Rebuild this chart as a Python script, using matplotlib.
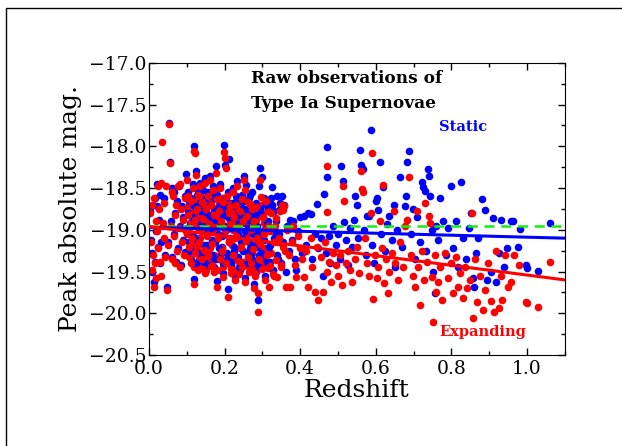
import matplotlib
matplotlib.use('Agg')
import matplotlib.pyplot as plt
from matplotlib.patches import Rectangle
from matplotlib.ticker import MultipleLocator
import numpy as np

# static model (blue): redshift, peak absolute magnitude
static_z = [
    0.004, 0.006, 0.008, 0.009, 0.011, 0.013, 0.015, 0.016, 0.018, 0.020,
    0.022, 0.024, 0.026, 0.028, 0.030, 0.033, 0.036, 0.040, 0.043, 0.048,
    0.050, 0.053, 0.056, 0.058, 0.060, 0.062, 0.065, 0.067, 0.070, 0.072,
    0.075, 0.077, 0.080, 0.082, 0.084, 0.087, 0.089, 0.091, 0.094, 0.096,
    0.099, 0.100,
    0.102, 0.104, 0.106, 0.108, 0.110, 0.112, 0.114, 0.116, 0.118, 0.120,
    0.121, 0.123, 0.125, 0.127, 0.129, 0.131, 0.133, 0.135, 0.137, 0.139,
    0.141, 0.143, 0.145, 0.147, 0.149, 0.151, 0.153, 0.155, 0.157, 0.159,
    0.161, 0.163, 0.165, 0.167, 0.169, 0.171, 0.173, 0.175, 0.177, 0.179,
    0.181, 0.183, 0.185, 0.187, 0.189, 0.191, 0.193, 0.195, 0.197, 0.199,
    0.200, 0.202, 0.204, 0.206, 0.208, 0.210, 0.212, 0.214, 0.216, 0.218,
    0.220, 0.222, 0.224, 0.226, 0.228, 0.230, 0.232, 0.234, 0.236, 0.238,
    0.240, 0.242, 0.244, 0.246, 0.248, 0.250, 0.252, 0.254, 0.256, 0.258,
    0.260, 0.262, 0.264, 0.266, 0.268, 0.270, 0.272, 0.274, 0.276, 0.278,
    0.280, 0.282, 0.284, 0.286, 0.288, 0.290, 0.292, 0.294, 0.296, 0.298,
    0.300, 0.302, 0.305, 0.308, 0.310, 0.313, 0.316, 0.320, 0.323, 0.326,
    0.329, 0.332,
    0.335, 0.338, 0.340, 0.343, 0.346, 0.350, 0.352, 0.355, 0.358, 0.362,
    0.366, 0.370, 0.374, 0.378, 0.382, 0.386, 0.390, 0.395, 0.400, 0.405,
    0.410, 0.415, 0.420, 0.428, 0.432, 0.438, 0.445, 0.448,
    0.455, 0.460, 0.464, 0.468, 0.472, 0.472, 0.476, 0.480, 0.488, 0.494,
    0.500, 0.505, 0.508, 0.512, 0.515, 0.520, 0.526, 0.532, 0.538, 0.542,
    0.546, 0.550, 0.554, 0.558, 0.562, 0.566, 0.570, 0.574, 0.577, 0.582,
    0.587, 0.590, 0.595, 0.600, 0.603, 0.606, 0.612, 0.615, 0.619, 0.624,
    0.630, 0.636, 0.642, 0.647, 0.652, 0.656, 0.663, 0.670, 0.676, 0.680,
    0.683, 0.688, 0.692, 0.698, 0.705, 0.710, 0.716, 0.722, 0.726, 0.730,
    0.734, 0.737, 0.740, 0.744, 0.748, 0.752, 0.756, 0.760, 0.765, 0.770,
    0.778, 0.785, 0.790, 0.798, 0.805, 0.812, 0.818, 0.826, 0.832, 0.840,
    0.846, 0.852, 0.856, 0.860, 0.865, 0.870, 0.880, 0.888, 0.895, 0.905,
    0.911, 0.918, 0.925, 0.932, 0.940, 0.948, 0.958, 0.963, 0.975, 0.982,
    0.998, 1.000, 1.030, 1.060,
]
static_mag = [
    -18.78, -19.12, -19.50, -19.28, -18.70, -19.62, -18.62, -19.38, -19.02, -18.72,
    -18.45, -19.20, -18.88, -19.40, -18.58, -19.15, -18.95, -18.62, -19.30, -19.69,
    -19.15, -17.72, -18.19, -18.90, -19.32, -18.50, -18.55, -19.05, -18.80, -19.38,
    -18.65, -19.22, -18.47, -18.96, -19.42, -18.72, -19.12, -18.85, -19.26, -18.60,
    -18.33, -19.00,
    -18.55, -18.78, -19.15, -18.92, -19.35, -18.62, -19.05, -18.45, -19.59, -18.00,
    -18.83, -19.22, -18.30, -18.70, -19.42, -18.52, -19.10, -18.44, -18.95, -19.30,
    -18.62, -18.82, -19.18, -18.38, -19.48, -18.70, -19.02, -18.55, -19.25, -18.88,
    -18.35, -19.38, -18.65, -19.12, -18.48, -18.78, -19.45, -18.92, -18.24, -19.61,
    -18.58, -19.05, -18.72, -19.30, -18.45, -18.85, -19.20, -18.62, -19.52, -17.98,
    -18.95, -18.22, -18.75, -19.35, -18.55, -19.71, -18.15, -19.10, -18.68, -19.42,
    -18.88, -18.50, -19.25, -18.80, -19.55, -18.65, -19.02, -18.42, -19.32, -18.92,
    -19.48, -18.72, -19.15, -18.58, -19.40, -18.85, -18.35, -19.58, -18.46, -19.08,
    -18.78, -19.28, -18.62, -19.45, -18.58, -18.95, -19.35, -18.70, -19.18, -19.65,
    -18.85, -19.50, -18.68, -19.05, -19.84, -18.48, -19.30, -18.26, -19.12, -18.37,
    -19.42, -18.80, -19.00, -19.55, -18.68, -19.25, -18.90, -19.38, -18.75, -18.49,
    -19.48, -19.10,
    -18.90, -19.30, -18.59, -19.05, -18.75, -19.40, -18.60, -19.15, -18.70, -19.50,
    -18.95, -19.25, -18.88, -19.12, -18.90, -19.35, -19.48, -19.02, -18.85, -19.28,
    -18.83, -19.18, -18.80, -18.81, -19.35, -19.05, -18.69, -19.22,
    -19.10, -19.55, -18.57, -19.28, -18.37, -18.01, -19.08, -19.40, -18.95, -19.18,
    -19.05, -19.35, -18.24, -18.41, -18.91, -19.12, -19.42, -18.98, -19.20, -18.88,
    -18.60, -18.70, -19.10, -18.04, -18.22, -18.27, -19.00, -19.30, -18.84, -18.83,
    -17.81, -19.18, -19.40, -18.65, -18.62, -18.76, -18.19, -19.05, -18.49, -19.25,
    -18.93, -18.84, -19.12, -18.70, -19.45, -19.00, -18.37, -19.20, -18.72, -18.59,
    -18.19, -18.06, -19.05, -18.75, -19.35, -18.85, -19.15, -18.43, -18.49, -18.54,
    -19.25, -18.27, -18.35, -18.60, -19.00, -19.50, -19.76, -18.95, -19.12, -18.62,
    -18.90, -19.30, -18.98, -18.47, -19.22, -18.90, -19.45, -18.43, -19.10, -19.35,
    -18.98, -18.80, -19.58, -19.68, -19.28, -19.10, -18.63, -18.76, -19.60, -19.50,
    -18.86, -19.62, -19.28, -18.88, -19.45, -19.22, -18.90, -18.90, -19.20, -18.99,
    -19.42, -19.46, -19.49, -18.92,
]
# extra points filling the crowded clump between z = 0.1 and 0.35
static_core_z = [
    0.262, 0.268, 0.274, 0.281, 0.289, 0.293, 0.297, 0.301, 0.304, 0.309,
    0.312, 0.315, 0.319, 0.322, 0.327, 0.331, 0.336, 0.341, 0.347, 0.353,
    0.101, 0.105, 0.109, 0.113, 0.117, 0.119, 0.124, 0.126, 0.128, 0.132,
    0.134, 0.136, 0.138, 0.142, 0.144, 0.146, 0.148, 0.152, 0.154, 0.156,
    0.158, 0.162, 0.164, 0.166, 0.168, 0.172, 0.174, 0.176, 0.178, 0.182,
    0.184, 0.186, 0.188, 0.192, 0.194, 0.196, 0.198, 0.203, 0.205, 0.207,
    0.209, 0.213, 0.215, 0.217, 0.219, 0.223, 0.225, 0.227, 0.229, 0.233,
    0.235, 0.237, 0.239, 0.243, 0.245, 0.247, 0.249, 0.253, 0.255, 0.257,
    0.259, 0.263, 0.265, 0.267, 0.269, 0.273, 0.275, 0.277, 0.279, 0.283,
    0.285, 0.287, 0.291, 0.295, 0.299, 0.303, 0.307, 0.311, 0.318, 0.325,
]
static_core_mag = [
    -18.98, -19.22, -18.80, -19.40, -19.05, -18.75, -19.28, -18.85, -19.12, -18.70,
    -19.38, -18.95, -19.18, -18.62, -19.48, -18.78, -19.05, -19.35, -18.68, -19.15,
    -18.98, -18.65, -19.25, -18.85, -19.08, -18.72, -19.40, -18.58, -19.12, -18.90,
    -18.68, -19.28, -18.78, -19.02, -18.52, -19.38, -18.95, -18.62, -19.18, -18.82,
    -19.42, -18.70, -18.98, -19.30, -18.88, -18.60, -19.15, -18.75, -19.35, -18.92,
    -18.50, -19.22, -18.68, -19.08, -18.80, -19.40, -18.72, -19.00, -18.62, -19.28,
    -18.85, -19.15, -18.55, -19.38, -18.98, -18.72, -19.20, -18.90, -18.60, -19.32,
    -19.05, -18.82, -19.45, -18.68, -19.10, -18.92, -19.25, -18.75, -19.02, -18.65,
    -19.40, -18.88, -19.15, -18.78, -19.30, -18.55, -19.05, -18.85, -19.38, -18.72,
    -19.20, -18.95, -19.45, -18.80, -19.12, -18.62, -19.32, -18.92, -19.20, -18.70,
]

# expanding model (red)
expand_z = [
    0.003, 0.005, 0.007, 0.009, 0.010, 0.012, 0.014, 0.016, 0.018, 0.019,
    0.021, 0.023, 0.025, 0.027, 0.029, 0.031, 0.033, 0.035, 0.037, 0.039,
    0.041, 0.043, 0.045, 0.048, 0.050, 0.053, 0.056, 0.058, 0.060, 0.062,
    0.064, 0.066, 0.068, 0.070, 0.072, 0.074, 0.077, 0.079, 0.081, 0.083,
    0.086, 0.088, 0.090, 0.093, 0.095, 0.098, 0.100,
    0.102, 0.104, 0.106, 0.108, 0.110, 0.112, 0.114, 0.116, 0.118, 0.120,
    0.121, 0.122, 0.123, 0.125, 0.127, 0.129, 0.131, 0.133, 0.135, 0.137,
    0.139, 0.141, 0.143, 0.145, 0.147, 0.149, 0.151, 0.153, 0.155, 0.157,
    0.159, 0.161, 0.163, 0.165, 0.167, 0.169, 0.171, 0.173, 0.175, 0.177,
    0.179, 0.181, 0.183, 0.185, 0.187, 0.189, 0.191, 0.193, 0.195, 0.197,
    0.199, 0.200, 0.201, 0.203, 0.205, 0.207, 0.209, 0.211, 0.213, 0.215,
    0.217, 0.219, 0.221, 0.223, 0.225, 0.227, 0.229, 0.231, 0.233, 0.235,
    0.237, 0.239, 0.241, 0.243, 0.245, 0.247, 0.249, 0.251, 0.253, 0.255,
    0.257, 0.259, 0.261, 0.263, 0.265, 0.267, 0.269, 0.271, 0.273, 0.275,
    0.277, 0.279, 0.281, 0.283, 0.285, 0.288, 0.289, 0.291, 0.293, 0.295,
    0.297, 0.299, 0.301, 0.304, 0.307, 0.310, 0.312, 0.315, 0.318, 0.321,
    0.324, 0.327, 0.330,
    0.334, 0.337, 0.340, 0.343, 0.346, 0.350, 0.352, 0.355, 0.358, 0.362,
    0.366, 0.370, 0.374, 0.378, 0.382, 0.386, 0.390, 0.395, 0.400, 0.405,
    0.410, 0.415, 0.420, 0.428, 0.432, 0.438, 0.445, 0.448,
    0.455, 0.460, 0.466, 0.470, 0.472, 0.472, 0.476, 0.482, 0.488, 0.494,
    0.500, 0.505, 0.510, 0.513, 0.515, 0.520, 0.526, 0.532, 0.538, 0.544,
    0.550, 0.556, 0.560, 0.563, 0.567, 0.572, 0.577, 0.582, 0.587, 0.590,
    0.593, 0.597, 0.602, 0.607, 0.611, 0.616, 0.619, 0.623, 0.628, 0.632,
    0.636, 0.642, 0.647, 0.652, 0.658, 0.665, 0.672, 0.678, 0.682, 0.688,
    0.692, 0.698, 0.703, 0.708, 0.712, 0.718, 0.722, 0.727, 0.730, 0.735,
    0.740, 0.744, 0.748, 0.752, 0.756, 0.760, 0.765, 0.770, 0.776, 0.782,
    0.790, 0.798, 0.805, 0.812, 0.818, 0.824, 0.830, 0.836, 0.842, 0.848,
    0.855, 0.858, 0.862, 0.868, 0.875, 0.884, 0.890, 0.896, 0.904, 0.913,
    0.918, 0.925, 0.930, 0.935, 0.942, 0.950, 0.958, 0.965, 0.978, 0.998,
    1.000, 1.030, 1.060,
]
expand_mag = [
    -18.80, -19.15, -19.48, -18.70, -19.30, -19.68, -18.62, -19.40, -18.90, -19.58,
    -19.02, -18.47, -19.22, -18.75, -19.38, -18.44, -19.55, -17.95, -18.92, -19.10,
    -18.68, -19.32, -18.47, -19.72, -19.18, -17.73, -18.20, -18.96, -19.35, -18.55,
    -18.60, -19.08, -18.82, -19.40, -18.70, -19.25, -18.48, -18.98, -18.45, -19.45,
    -18.75, -19.15, -18.88, -19.30, -18.62, -19.02, -18.40,
    -18.60, -18.82, -19.20, -18.97, -19.40, -18.66, -19.10, -18.50, -19.65, -18.06,
    -18.88, -18.08, -19.28, -18.34, -18.75, -19.48, -18.58, -19.15, -18.48, -19.00,
    -19.35, -18.67, -18.87, -19.24, -18.44, -19.52, -18.75, -19.08, -18.60, -19.30,
    -18.93, -18.40, -19.43, -18.70, -19.17, -18.52, -18.82, -19.50, -18.97, -18.32,
    -19.68, -18.63, -19.10, -18.77, -19.35, -18.50, -18.90, -19.25, -18.67, -19.57,
    -18.07, -19.00, -18.14, -18.26, -19.40, -18.60, -19.80, -18.80, -19.15, -18.73,
    -19.47, -18.93, -18.55, -19.30, -18.85, -19.60, -18.70, -19.07, -18.47, -19.37,
    -18.97, -19.53, -18.77, -19.20, -18.63, -19.45, -18.90, -18.40, -19.63, -18.52,
    -19.13, -18.83, -19.33, -18.67, -19.50, -18.69, -19.00, -19.40, -18.75, -19.23,
    -19.70, -18.90, -19.55, -18.73, -19.10, -19.98, -19.76, -19.35, -18.40, -19.17,
    -18.61, -19.47, -18.85, -19.05, -19.60, -18.65, -19.30, -18.95, -19.68, -19.43,
    -18.80, -19.53, -19.15,
    -18.95, -19.36, -19.56, -19.10, -18.77, -19.45, -18.70, -19.20, -18.72, -19.68,
    -19.00, -19.30, -19.68, -19.15, -18.95, -19.42, -19.56, -19.08, -19.22, -19.35,
    -19.56, -19.25, -19.68, -19.10, -19.45, -19.75, -19.20, -19.84,
    -19.32, -19.74, -19.15, -19.50, -18.23, -18.79, -19.38, -19.62, -19.28, -19.42,
    -19.55, -19.30, -19.66, -18.47, -18.65, -19.40, -19.25, -19.48, -19.62, -19.35,
    -19.20, -19.52, -18.29, -18.51, -18.55, -19.10, -19.40, -19.55, -18.80, -18.08,
    -19.83, -19.30, -19.58, -19.45, -18.90, -19.22, -18.46, -19.64, -19.35, -19.76,
    -19.50, -19.28, -18.77, -19.40, -19.60, -19.15, -19.45, -18.95, -18.88, -18.37,
    -19.30, -19.55, -19.68, -18.77, -19.45, -19.90, -19.25, -19.60, -18.68, -19.38,
    -18.84, -18.92, -19.56, -20.10, -19.30, -19.75, -19.62, -19.45, -19.84, -19.28,
    -19.58, -19.40, -19.76, -19.32, -19.68, -19.52, -19.82, -19.45, -19.70, -19.60,
    -18.80, -20.06, -19.35, -19.86, -19.55, -19.96, -19.72, -19.40, -19.85, -19.98,
    -19.25, -19.94, -19.55, -19.84, -19.30, -19.68, -19.62, -19.30, -19.42, -19.86,
    -19.88, -19.92, -19.38,
]
expand_core_z = [
    0.261, 0.266, 0.273, 0.279, 0.286, 0.292, 0.298, 0.303, 0.306, 0.311,
    0.314, 0.319, 0.323, 0.326, 0.331, 0.336, 0.342, 0.348, 0.354, 0.360,
    0.100, 0.103, 0.107, 0.111, 0.115, 0.117, 0.119, 0.124, 0.126, 0.128,
    0.130, 0.132, 0.134, 0.136, 0.138, 0.140, 0.142, 0.144, 0.146, 0.148,
    0.150, 0.152, 0.154, 0.156, 0.158, 0.160, 0.162, 0.164, 0.166, 0.168,
    0.170, 0.172, 0.174, 0.176, 0.178, 0.180, 0.182, 0.184, 0.186, 0.188,
    0.190, 0.192, 0.194, 0.196, 0.198, 0.202, 0.204, 0.206, 0.208, 0.210,
    0.212, 0.214, 0.216, 0.218, 0.220, 0.222, 0.224, 0.226, 0.228, 0.230,
    0.232, 0.236, 0.240, 0.244, 0.248, 0.252, 0.256, 0.260, 0.264, 0.268,
    0.272, 0.276, 0.280, 0.284, 0.290, 0.296, 0.302, 0.308, 0.316, 0.322,
]
expand_core_mag = [
    -19.05, -19.30, -18.88, -19.48, -19.12, -18.82, -19.36, -18.92, -19.22, -18.78,
    -19.46, -19.02, -19.28, -18.70, -19.55, -18.86, -19.15, -19.42, -18.76, -19.25,
    -19.05, -18.72, -19.32, -18.92, -19.15, -18.80, -19.45, -18.65, -19.20, -18.97,
    -18.75, -19.35, -18.85, -19.10, -18.60, -19.45, -19.02, -18.70, -19.25, -18.90,
    -19.48, -18.78, -19.05, -19.38, -18.95, -18.68, -19.22, -18.82, -19.42, -19.00,
    -18.58, -19.30, -18.75, -19.15, -18.88, -19.48, -18.80, -19.08, -18.70, -19.35,
    -18.92, -19.22, -18.62, -19.45, -19.05, -18.80, -19.28, -18.98, -18.68, -19.40,
    -19.12, -18.90, -19.52, -18.76, -19.18, -19.00, -19.33, -18.83, -19.10, -18.73,
    -19.48, -18.95, -19.22, -18.86, -19.38, -18.64, -19.13, -18.93, -19.45, -18.80,
    -19.28, -19.03, -19.52, -18.88, -19.20, -18.70, -19.40, -19.00, -19.28, -18.78,
]

# fitted lines (end points)
fit_z = [0.0, 1.1]
static_fit = [-18.97, -19.10]
expand_fit = [-18.96, -19.60]
flat_level = [-18.96, -18.96]

fig = plt.figure(figsize=(6.22, 4.46), dpi=100)
ax = fig.add_axes([0.2395, 0.204, 0.6685, 0.655])

# blue and red layers interleaved so neither colour hides the other
ax.scatter(static_z, static_mag, s=30, color='#0000ff', linewidths=0, zorder=2)
ax.scatter(expand_core_z, expand_core_mag, s=30, color='#ff0000',
           linewidths=0, zorder=2)
ax.scatter(static_core_z, static_core_mag, s=30, color='#0000ff',
           linewidths=0, zorder=2)
ax.scatter(expand_z, expand_mag, s=30, color='#ff0000', linewidths=0, zorder=2)

ax.plot(fit_z, flat_level, color='#11ee11', lw=1.8, dashes=(4, 2.7), zorder=3)
ax.plot(fit_z, static_fit, color='#0000ff', lw=2.2, zorder=3)
ax.plot(fit_z, expand_fit, color='#ff0000', lw=2.2, zorder=3)

ax.set_xlim(0, 1.1)
ax.set_ylim(-20.5, -17.0)
ax.xaxis.set_major_locator(MultipleLocator(0.2))
ax.xaxis.set_minor_locator(MultipleLocator(0.1))
ax.yaxis.set_major_locator(MultipleLocator(0.5))
ax.yaxis.set_minor_locator(MultipleLocator(0.25))
ax.tick_params(which='both', direction='in', top=True, right=True,
               labelsize=13.5)
ax.tick_params(axis='x', pad=3.5)
ax.tick_params(axis='y', pad=1.5)
ax.tick_params(which='major', length=5, width=1)
ax.tick_params(which='minor', length=3, width=1)
for lab in ax.get_xticklabels() + ax.get_yticklabels():
    lab.set_family('DejaVu Serif')
ax.xaxis.set_major_formatter(plt.FuncFormatter(lambda v, p: '%.1f' % v))
ax.yaxis.set_major_formatter(plt.FuncFormatter(
    lambda v, p: '\u2212%.1f' % abs(v)))

ax.set_xlabel('Redshift', family='DejaVu Serif', fontsize=18, labelpad=1)
ax.set_ylabel('Peak absolute mag.', family='DejaVu Serif', fontsize=18,
              labelpad=5)

# labels inside the plot
ax.text(0.27, -17.19, 'Raw observations of', family='DejaVu Serif',
        fontweight='bold', fontsize=12.2, va='center')
ax.text(0.27, -17.49, 'Type Ia Supernovae', family='DejaVu Serif',
        fontweight='bold', fontsize=12.2, va='center')
ax.text(0.767, -17.77, 'Static', family='DejaVu Serif', fontweight='bold',
        fontsize=10.5, color='#0000ff', va='center')
ax.text(0.767, -20.22, 'Expanding', family='DejaVu Serif', fontweight='bold',
        fontsize=10.5, color='#ff0000', va='center')

# frame around the image (cut at right and bottom)
fig.patches.append(Rectangle((5.5 / 622, -0.1), 1.2, 1.1 - 8 / 446,
                             transform=fig.transFigure, fill=False,
                             edgecolor='black', lw=1.0))

fig.savefig('out.png', dpi=100)
